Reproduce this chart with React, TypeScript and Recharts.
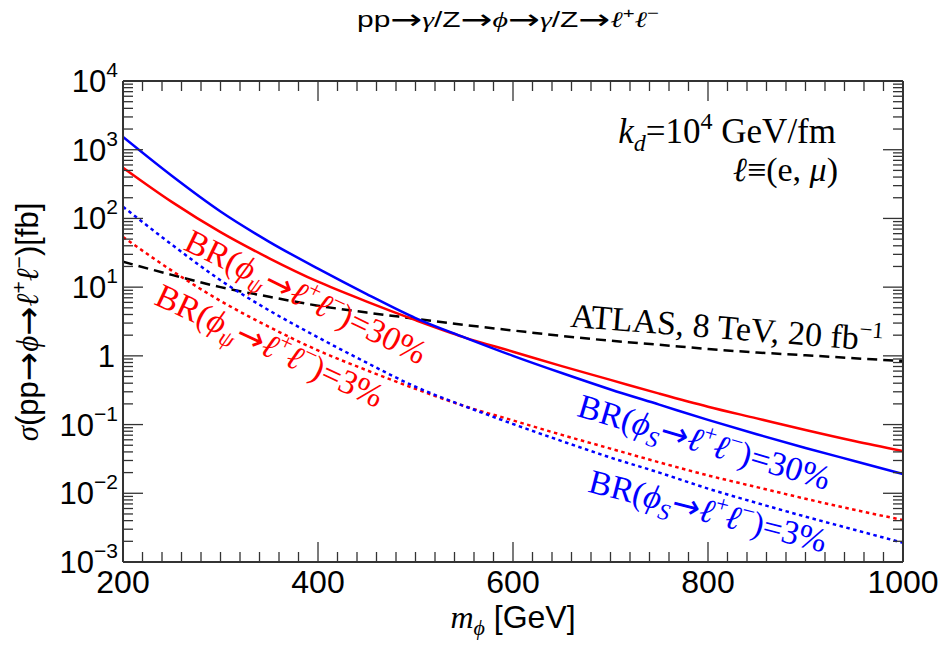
import React from 'react';
import { LineChart, Line, XAxis, YAxis } from 'recharts';

// m_phi [GeV]
const masses = [200, 250, 300, 350, 400, 450, 500, 550, 600, 650, 700, 750, 800, 850, 900, 950, 1000];
// sigma [fb], BR(phi_S -> l+l-) = 30%
const blueSolid30 = [1531, 417, 126, 45.7, 18.6, 7.94, 3.55, 1.86, 1.0, 0.562, 0.324, 0.195, 0.117, 0.0724, 0.0457, 0.0295, 0.0191];
// BR(phi_psi -> l+l-) = 30%
const redSolid30 = [547, 174, 63.1, 26.3, 12.0, 6.17, 3.31, 1.86, 1.15, 0.708, 0.447, 0.282, 0.182, 0.123, 0.0832, 0.0575, 0.0411];
// BR(phi_S -> l+l-) = 3%
const blueDotted3 = [148, 41.7, 12.6, 4.57, 1.86, 0.794, 0.355, 0.186, 0.102, 0.0575, 0.0331, 0.02, 0.0117, 0.00724, 0.00457, 0.00295, 0.0019];
// BR(phi_psi -> l+l-) = 3%
const redDotted3 = [53.7, 17.4, 6.31, 2.63, 1.2, 0.617, 0.331, 0.186, 0.115, 0.0708, 0.0447, 0.0282, 0.0182, 0.0123, 0.00832, 0.00575, 0.00408];
// ATLAS 8 TeV 20 fb^-1 limit
const atlasLimit = [23.4, 15.1, 10.0, 7.24, 5.37, 4.27, 3.47, 2.82, 2.34, 1.95, 1.66, 1.45, 1.26, 1.12, 1.02, 0.923, 0.84];

const xMajorTicks = [200, 400, 600, 800, 1000];
const xMinorTicks: number[] = [];
for (let v = 220; v < 1000; v += 20) if (v % 200 !== 0) xMinorTicks.push(v);
const xAllTicks = [...xMajorTicks, ...xMinorTicks].sort((a, b) => a - b);
const yMajorTicks = [0.001, 0.01, 0.1, 1, 10, 100, 1000, 10000];
const yTickExponents = ['−3', '−2', '−1', '', '1', '2', '3', '4'];
const yMinorTicks: number[] = [];
for (let d = -3; d <= 3; d++) for (let k = 2; k <= 9; k++) yMinorTicks.push(Number((k * Math.pow(10, d)).toPrecision(3)));
const yAllTicks = [...yMajorTicks, ...yMinorTicks].sort((a, b) => a - b);

const data = masses.map((m, i) => ({
  m,
  bs: blueSolid30[i],
  rs: redSolid30[i],
  bd: blueDotted3[i],
  rd: redDotted3[i],
  atlas: atlasLimit[i],
}));

const SANS = '"Liberation Sans", Arial, Helvetica, sans-serif';
const SERIF = '"Liberation Serif", "Times New Roman", "DejaVu Serif", serif';
const ARROW = '"DejaVu Sans", sans-serif';
const AX = '#333';
const TINY = 0.01;
const MAJ = 20;
const MIN = 10;

const isMajorX = (v: number) => xMajorTicks.includes(v);
const yMajorIndex = (v: number) => yMajorTicks.findIndex((t) => Math.abs(t - v) / t < 1e-6);

const XTickBottom = (props: any) => {
  const { x, y, payload } = props;
  const major = isMajorX(payload.value);
  return (
    <g>
      <line x1={x} x2={x} y1={y} y2={y - (major ? MAJ : MIN)} stroke={AX} strokeWidth={1.3} />
      {major && (
        <text x={x} y={y + 31} textAnchor="middle" fontFamily={SANS} fontSize={32} fill="#000">
          {payload.value}
        </text>
      )}
    </g>
  );
};

const XTickTop = (props: any) => {
  const { x, y, payload } = props;
  const major = isMajorX(payload.value);
  return <line x1={x} x2={x} y1={y} y2={y + (major ? MAJ : MIN)} stroke={AX} strokeWidth={1.3} />;
};

const YTickLeft = (props: any) => {
  const { x, y, payload } = props;
  const idx = yMajorIndex(payload.value);
  const major = idx >= 0;
  let label: React.ReactNode = null;
  if (major && payload.value === 1) {
    label = (
      <text x={x - 8} y={y + 11} textAnchor="end" fontFamily={SANS} fontSize={31} fill="#000">1</text>
    );
  } else if (major) {
    label = (
      <text x={x - 5} y={y + 11} textAnchor="end" fontFamily={SANS} fontSize={31} fill="#000">
        <tspan>10</tspan>
        <tspan dy={-15} fontSize={21}>{yTickExponents[idx]}</tspan>
      </text>
    );
  }
  return (
    <g>
      <line x1={x} x2={x + (major ? MAJ : MIN)} y1={y} y2={y} stroke={AX} strokeWidth={1.3} />
      {label}
    </g>
  );
};

const YTickRight = (props: any) => {
  const { x, y, payload } = props;
  const major = yMajorIndex(payload.value) >= 0;
  return <line x1={x} x2={x - (major ? MAJ : MIN)} y1={y} y2={y} stroke={AX} strokeWidth={1.3} />;
};

const hidden = { stroke: 'none', dot: false, activeDot: false, legendType: 'none' as const, isAnimationActive: false };

const curveLabels = [
  { cx: 301, cy: 307, a: 26, sub: 'ψ', pct: '30', color: '#ff0000' },
  { cx: 265, cy: 356, a: 25, sub: 'ψ', pct: '3', color: '#ff0000' },
  { cx: 701, cy: 453, a: 16.5, sub: 'S', pct: '30', color: '#0000ff' },
  { cx: 705, cy: 522, a: 14.5, sub: 'S', pct: '3', color: '#0000ff' },
];

export default function App() {
  return (
    <div style={{ position: 'absolute', left: 0, top: 0, width: 944, height: 646, background: '#fff' }}>
      <LineChart width={944} height={646} data={data} margin={{ top: 81, right: 41, bottom: 84, left: 123 }}>
        <XAxis xAxisId="x" dataKey="m" type="number" domain={[200, 1000]} allowDataOverflow ticks={xAllTicks}
          interval={0} height={TINY} tickSize={0} tickMargin={0} tickLine={false}
          axisLine={{ stroke: AX, strokeWidth: 2 }} tick={<XTickBottom />} />
        <XAxis xAxisId="top" dataKey="m" orientation="top" type="number" domain={[200, 1000]} allowDataOverflow ticks={xAllTicks}
          interval={0} height={TINY} tickSize={0} tickMargin={0} tickLine={false}
          axisLine={{ stroke: AX, strokeWidth: 2 }} tick={<XTickTop />} />
        <YAxis yAxisId="y" type="number" scale="log" domain={[0.001, 10000]} allowDataOverflow ticks={yAllTicks}
          interval={0} width={TINY} tickSize={0} tickMargin={0} tickLine={false}
          axisLine={{ stroke: AX, strokeWidth: 2 }} tick={<YTickLeft />} />
        <YAxis yAxisId="right" orientation="right" type="number" scale="log" domain={[0.001, 10000]} allowDataOverflow ticks={yAllTicks}
          interval={0} width={TINY} tickSize={0} tickMargin={0} tickLine={false}
          axisLine={{ stroke: AX, strokeWidth: 2 }} tick={<YTickRight />} />

        {/* invisible series that attaches the top/right frame axes */}
        <Line xAxisId="top" yAxisId="right" dataKey="atlas" {...hidden} />

        <Line xAxisId="x" yAxisId="y" type="monotone" dataKey="atlas" stroke="#000" strokeWidth={2.5} strokeDasharray="10 6" dot={false} isAnimationActive={false} />
        <Line xAxisId="x" yAxisId="y" type="monotone" dataKey="rd" stroke="#ff0000" strokeWidth={2.5} strokeDasharray="3.5 3.5" dot={false} isAnimationActive={false} />
        <Line xAxisId="x" yAxisId="y" type="monotone" dataKey="bd" stroke="#0000ff" strokeWidth={2.5} strokeDasharray="3.5 3.5" dot={false} isAnimationActive={false} />
        <Line xAxisId="x" yAxisId="y" type="monotone" dataKey="rs" stroke="#ff0000" strokeWidth={2.5} dot={false} isAnimationActive={false} />
        <Line xAxisId="x" yAxisId="y" type="monotone" dataKey="bs" stroke="#0000ff" strokeWidth={2.5} dot={false} isAnimationActive={false} />
      </LineChart>

      <svg width={944} height={646} style={{ position: 'absolute', left: 0, top: 0, pointerEvents: 'none' }}>
        {/* title */}
        <text transform="translate(508,0) scale(1.36,1) translate(-508,0)" x={508} y={27} textAnchor="middle" fontFamily={SANS} fontSize={22} fill="#000">
          <tspan>pp</tspan>
          <tspan fontFamily={ARROW} fontSize={28} dy={2}>→</tspan>
          <tspan dy={-2} fontFamily={SERIF} fontStyle="italic">γ</tspan>
          <tspan>/Z</tspan>
          <tspan fontFamily={ARROW} fontSize={28} dy={2}>→</tspan>
          <tspan dy={-2} fontFamily={SERIF} fontStyle="italic">ϕ</tspan>
          <tspan fontFamily={ARROW} fontSize={28} dy={2}>→</tspan>
          <tspan dy={-2} fontFamily={SERIF} fontStyle="italic">γ</tspan>
          <tspan>/Z</tspan>
          <tspan fontFamily={ARROW} fontSize={28} dy={2}>→</tspan>
          <tspan dy={-2} fontFamily={SERIF} fontStyle="italic">ℓ</tspan>
          <tspan dy={-9} fontSize={15}>+</tspan>
          <tspan dy={9} fontFamily={SERIF} fontStyle="italic">ℓ</tspan>
          <tspan dy={-9} fontSize={15}>−</tspan>
        </text>

        {/* y axis title */}
        <text transform="rotate(-90, 38, 322)" x={38} y={322} textAnchor="middle" fontFamily={SANS} fontSize={31} fill="#000">
          <tspan fontFamily={SERIF} fontStyle="italic">σ</tspan>
          <tspan>(pp</tspan>
          <tspan fontFamily={ARROW} fontSize={35} dy={2}>→</tspan>
          <tspan dy={-2} fontFamily={SERIF} fontStyle="italic">ϕ</tspan>
          <tspan fontFamily={ARROW} fontSize={35} dy={2}>→</tspan>
          <tspan dy={-2} fontFamily={SERIF} fontStyle="italic">ℓ</tspan>
          <tspan dy={-12} fontSize={21}>+</tspan>
          <tspan dy={12} fontFamily={SERIF} fontStyle="italic">ℓ</tspan>
          <tspan dy={-12} fontSize={21}>−</tspan>
          <tspan dy={12}>)[fb]</tspan>
        </text>

        {/* x axis title */}
        <text x={513} y={628} textAnchor="middle" fontFamily={SANS} fontSize={32} fill="#000">
          <tspan fontFamily={SERIF} fontStyle="italic">m</tspan>
          <tspan dy={7} fontSize={22} fontFamily={SERIF} fontStyle="italic">ϕ</tspan>
          <tspan dy={-7}> [GeV]</tspan>
        </text>

        {/* annotations */}
        <text x={836} y={143} textAnchor="end" fontFamily={SERIF} fontSize={35} fill="#000">
          <tspan fontStyle="italic">k</tspan>
          <tspan dy={8} fontSize={24} fontStyle="italic">d</tspan>
          <tspan dy={-8}>=10</tspan>
          <tspan dy={-14} fontSize={24}>4</tspan>
          <tspan dy={14}> GeV/fm</tspan>
        </text>
        <text x={838} y={181} textAnchor="end" fontFamily={SERIF} fontSize={34} fill="#000">
          <tspan fontStyle="italic">ℓ</tspan>
          <tspan>≡(e, </tspan>
          <tspan fontStyle="italic">μ</tspan>
          <tspan>)</tspan>
        </text>

        <text transform="rotate(4.5, 726, 339)" x={726} y={339} textAnchor="middle" fontFamily={SERIF} fontSize={34} fill="#000">
          <tspan>ATLAS, 8 TeV, 20 fb</tspan>
          <tspan dy={-13} fontSize={23}>−1</tspan>
        </text>

        {curveLabels.map((l, i) => (
          <text key={i} transform={`rotate(${l.a}, ${l.cx}, ${l.cy})`} x={l.cx} y={l.cy} textAnchor="middle"
            fontFamily={SERIF} fontSize={34} fill={l.color}>
            <tspan>BR(</tspan>
            <tspan fontStyle="italic">ϕ</tspan>
            <tspan dy={8} fontSize={23} fontStyle="italic">{l.sub}</tspan>
            <tspan dy={-8} fontFamily={ARROW}>→</tspan>
            <tspan fontStyle="italic">ℓ</tspan>
            <tspan dy={-14} fontSize={23}>+</tspan>
            <tspan dy={14} fontStyle="italic">ℓ</tspan>
            <tspan dy={-14} fontSize={23}>−</tspan>
            <tspan dy={14}>)={l.pct}%</tspan>
          </text>
        ))}
      </svg>
    </div>
  );
}
